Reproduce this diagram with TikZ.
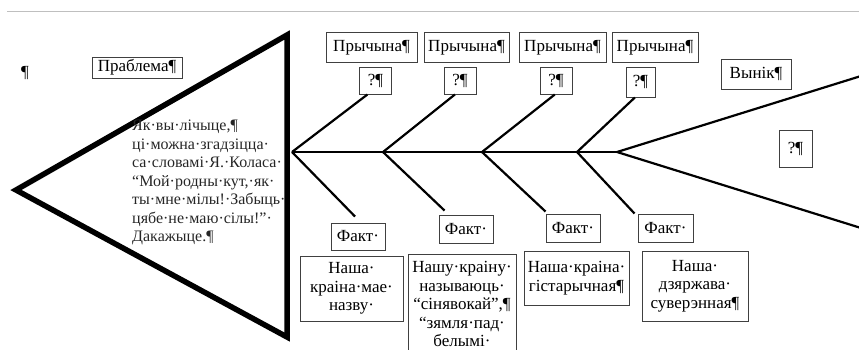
\documentclass[tikz,border=0pt]{standalone}
\usepackage{fontspec}
\setmainfont{Liberation Serif}
\tikzset{
  box/.style={draw=black!75, line width=1pt, inner sep=2pt, align=center},
  bone/.style={line width=2.2pt},
}
\begin{document}
\begin{tikzpicture}[x=1pt,y=-1pt,font=\fontsize{17}{18.5}\selectfont]
    \useasboundingbox (0,0) rectangle (859,349);
    \clip (0,0) rectangle (859,349);
    \draw[gray!50, line width=1pt] (7,11) -- (859,11);
    % head of the fish
    \draw[line width=5.5pt, line join=miter, miter limit=20] (16,190) -- (287,35) -- (287,337) -- cycle;
    \node[align=left, anchor=north west, inner sep=0pt, text=black!85, font=\fontsize{16}{18.5}\selectfont] (question) at (132,120) {Як·вы·лічыце,¶\\ці·можна·згадзіцца·\\са·словамі·Я.·Коласа·\\“Мой·родны·кут,·як·\\ты·мне·мілы!·Забыць·\\цябе·не·маю·сілы!”·\\Дакажыце.¶};
    \node (mark) at (25,73) {¶};
    \node[box, minimum width=90, minimum height=21] (problem) at (137,67.5) {Праблема¶};
    % spine
    \coordinate (s1) at (292,152);
    \coordinate (s2) at (383,152);
    \coordinate (s3) at (482,152);
    \coordinate (s4) at (577,152);
    \coordinate (tail) at (617,152);
    \draw[bone] (s1) -- (tail);
    \coordinate (fanup) at (861,76);
    \coordinate (fandown) at (861,228);
    \draw[bone] (fanup) -- (tail) -- (fandown);
    % causes
    \foreach \n/\x/\w in {1/371.5/91, 2/466.5/85, 3/562.5/87, 4/655/86}
        \node[box, minimum width=\w, minimum height=30] (cause\n) at (\x,47.5) {Прычына¶};
    \foreach \n/\x in {1/375.5, 2/460, 3/556}
        \node[box, minimum width=32, minimum height=27] (q\n) at (\x,80.5) {?¶};
    \node[box, minimum width=29, minimum height=30] (q4) at (640.5,82) {?¶};
    \draw[bone] (q1.240) -- (s1);
    \draw[bone] (q2.250) -- (s2);
    \draw[bone] (q3.265) -- (s3);
    \draw[bone] (q4.250) -- (s4);
    % result
    \node[box, minimum width=70, minimum height=30] (result) at (756,74) {Вынік¶};
    \node[box, minimum width=33, minimum height=37] (answer) at (795.5,148.5) {?¶};
    % facts
    \node[box, minimum width=54, minimum height=27] (fact1) at (358,236.5) {Факт·};
    \node[box, minimum width=54, minimum height=28] (fact2) at (466,229) {Факт·};
    \node[box, minimum width=54, minimum height=28] (fact3) at (573,228) {Факт·};
    \node[box, minimum width=55, minimum height=28] (fact4) at (665.5,228) {Факт·};
    \draw[bone] (s1) -- ([xshift=-3pt,yshift=6pt]fact1.north);
    \draw[bone] (s2) -- ([xshift=6pt,yshift=4pt]fact2.north west);
    \draw[bone] (s3) -- ([yshift=2pt]fact3.north west);
    \draw[bone] (s4) -- ([xshift=-3pt]fact4.north west);
    \node[box, minimum width=103, minimum height=65] (note1) at (351.5,288.5) {Наша·\\краіна·мае·\\назву·};
    \node[box, minimum width=108, inner ysep=7pt, anchor=north] (note2) at (462,254) {Нашу·краіну·\\называюць·\\“сінявокай”,¶\\“зямля·пад·\\белымі·};
    \node[box, minimum width=105, minimum height=54] (note3) at (576.5,278) {Наша·краіна·\\гістарычная¶};
    \node[box, minimum width=106, minimum height=70] (note4) at (695,286) {Наша·\\дзяржава·\\суверэнная¶};
\end{tikzpicture}
\end{document}
